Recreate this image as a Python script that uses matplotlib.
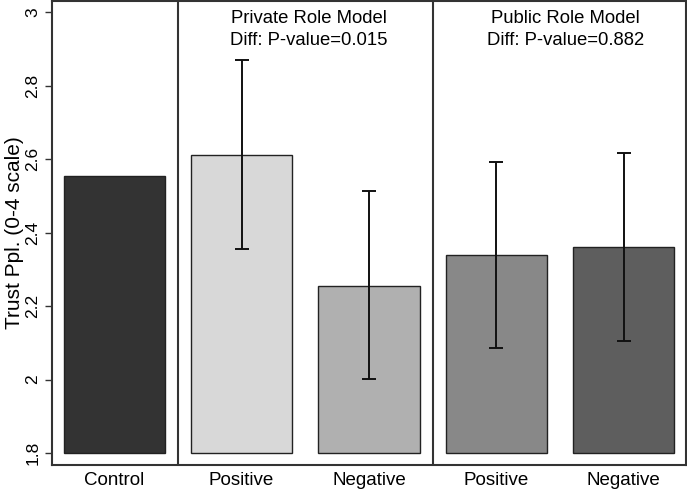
import matplotlib.pyplot as plt
import numpy as np

plt.rcParams['font.family'] = ['Liberation Sans', 'DejaVu Sans']

labels = ['Control', 'Positive', 'Negative', 'Positive', 'Negative']
means = [2.553, 2.612, 2.256, 2.338, 2.360]
ci_low = [np.nan, 2.356, 2.001, 2.087, 2.105]
ci_high = [np.nan, 2.870, 2.512, 2.591, 2.617]
colors = ['#333333', '#d8d8d8', '#b0b0b0', '#888888', '#5e5e5e']
groups = ['Private Role Model\nDiff: P-value=0.015',
          'Public Role Model\nDiff: P-value=0.882']

base = 1.8
x = np.arange(len(labels))
means = np.array(means)
lo = means - np.array(ci_low)
hi = np.array(ci_high) - means

fig = plt.figure(figsize=(6.87, 4.91), dpi=100)
ax = fig.add_axes([0.0753, 0.053, 0.9227, 0.945])

ax.bar(x, means - base, bottom=base, width=0.795, color=colors,
       edgecolor='#222222', linewidth=1)
ax.errorbar(x[1:], means[1:], yerr=[lo[1:], hi[1:]], fmt='none',
            ecolor='#111111', elinewidth=1.4, capsize=5, capthick=1.4)

for xs in [0.5, 2.5]:
    ax.axvline(xs, color='#333333', linewidth=1.5)

for gx, gtext in zip([1.53, 3.54], groups):
    ax.text(gx, 0.98, gtext, ha='center', va='top', fontsize=13.3,
            linespacing=1.4, transform=ax.get_xaxis_transform())

ax.set_xlim(-0.49, 4.485)
ax.set_ylim(1.768, 3.03)
ax.set_yticks([1.8, 2, 2.2, 2.4, 2.6, 2.8, 3])
ax.set_yticklabels(['1.8', '2', '2.2', '2.4', '2.6', '2.8', '3'],
                   rotation=90, va='center', fontsize=12.5)
ax.set_xticks(x)
ax.set_xticklabels(labels, fontsize=13.5)
ax.tick_params(axis='x', length=0, pad=5)
ax.tick_params(axis='y', length=5, width=1, color='#333333', pad=3)
ax.set_ylabel('Trust Ppl. (0-4 scale)', fontsize=15, labelpad=1)
for s in ax.spines.values():
    s.set_color('#333333')
    s.set_linewidth(1.5)

plt.savefig('out.png', dpi=100)
